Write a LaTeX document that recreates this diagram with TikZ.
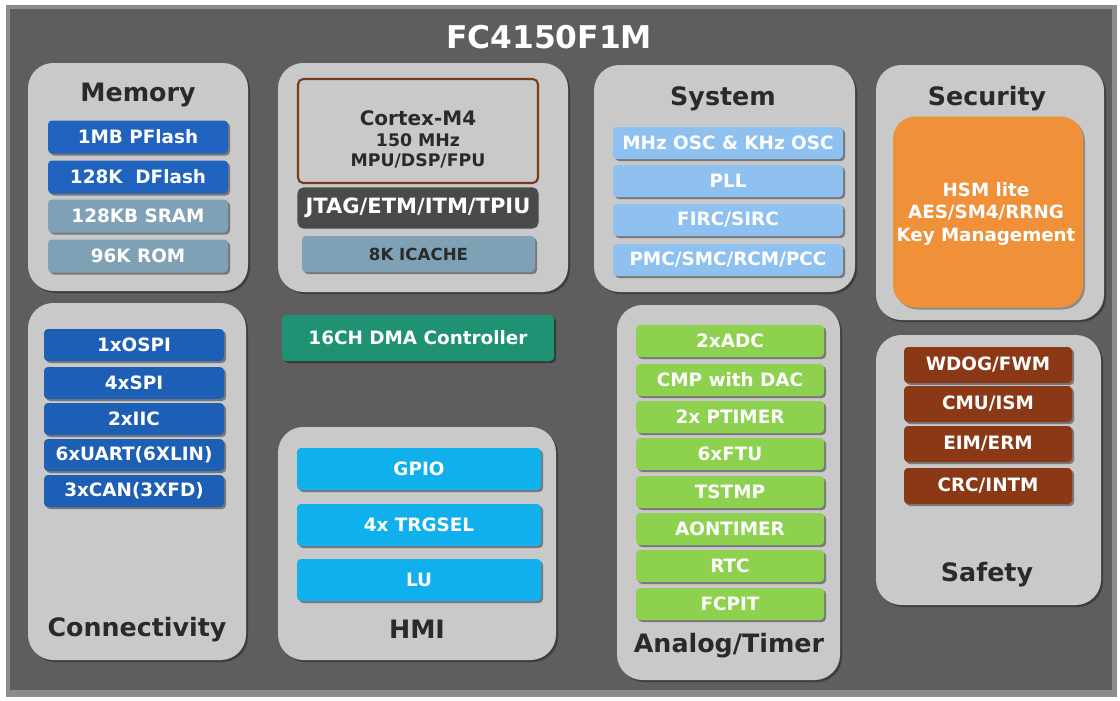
\documentclass[tikz,border=0pt]{standalone}
\usepackage{fontspec}
\setmainfont{DejaVu Sans}
\usetikzlibrary{shadows}
\definecolor{panel}{HTML}{5E5E5E}
\definecolor{panelEdge}{HTML}{8C8C8C}
\definecolor{grp}{HTML}{C9C9C9}
\definecolor{memBlue}{HTML}{1F63BF}
\definecolor{memGray}{HTML}{7FA1B5}
\definecolor{conBlue}{HTML}{1E5FB6}
\definecolor{sysBlue}{HTML}{8EC0F0}
\definecolor{hsmOrange}{HTML}{F0913A}
\definecolor{dmaGreen}{HTML}{1E9272}
\definecolor{hmiCyan}{HTML}{0FB0EC}
\definecolor{anaGreen}{HTML}{8DD14E}
\definecolor{safBrown}{HTML}{8A3816}
\definecolor{cpuBrown}{HTML}{7A3A1C}
\definecolor{jtagGray}{HTML}{4A4A4A}
\definecolor{titleText}{HTML}{2A2A2A}
\tikzset{
  x=0.75pt, y=-0.75pt,
  grpbox/.style={fill=grp, rounded corners=19pt, draw=none,
    drop shadow={shadow xshift=1.5pt, shadow yshift=-1.5pt, opacity=0.35, fill=black}},
  itembox/.style={rounded corners=3pt, draw=none, text=white,
    font=\bfseries\fontsize{13.8}{15}\selectfont,
    drop shadow={shadow xshift=1.5pt, shadow yshift=-1.5pt, opacity=0.4, fill=black}},
  grptitle/.style={text=titleText, font=\bfseries\fontsize{19}{21}\selectfont},
}
\newcommand{\itm}[6]{% name, x1, x2, ycenter, h, color, text
  \node[itembox, fill=#6, minimum width={(#3-#2)*0.75pt}, minimum height={#5*0.75pt}, inner sep=0pt] (#1) at ({(#2+#3)/2},#4)}
\begin{document}
\begin{tikzpicture}
\useasboundingbox (0,0) rectangle (1120,700);
\fill[white] (0,0) rectangle (1120,700);
% outer panel
\fill[panelEdge] (6,5) rectangle (1117,697);
\fill[panel] (10,9) rectangle (1112,690);
\node[text=white, font=\bfseries\fontsize{23.5}{26}\selectfont] (title) at (549,37) {FC4150F1M};

% ---------- Memory
\path[grpbox] (28,63) rectangle (248,291);
\node[grptitle] (memT) at (138,95) {Memory};
\itm{m1}{48}{228}{137}{33}{memBlue} {1MB PFlash};
\itm{m2}{48}{228}{177}{33}{memBlue} {128K\ \ DFlash};
\itm{m3}{48}{228}{216}{33}{memGray} {128KB SRAM};
\itm{m4}{48}{228}{256}{33}{memGray} {96K ROM};

% ---------- CPU
\path[grpbox] (278,63) rectangle (568,292);
\node[draw=cpuBrown, line width=1.6pt, fill=grp, rounded corners=4pt,
  minimum width={240*0.75pt}, minimum height={104*0.75pt}] (cpu) at (418,131) {};
\node[text=titleText, font=\bfseries\fontsize{15}{16}\selectfont] (cpuA) at (418,118) {Cortex-M4};
\node[text=titleText, font=\bfseries\fontsize{13}{14}\selectfont] (cpuB) at (418,140) {150 MHz};
\node[text=titleText, font=\bfseries\fontsize{13}{14}\selectfont] (cpuC) at (418,161) {MPU/DSP/FPU};
\node[fill=jtagGray, draw=black!70, line width=0.8pt, rounded corners=4pt, text=white,
  font=\bfseries\fontsize{15.8}{17}\selectfont,
  minimum width={240*0.75pt}, minimum height={40*0.75pt}, inner sep=0pt] (jtag) at (418,208) {JTAG/ETM/ITM/TPIU};
\itm{icache}{302}{535}{254}{36}{memGray} {\textcolor{titleText}{\fontsize{12.5}{13}\selectfont 8K ICACHE}};

% ---------- System
\path[grpbox] (594,65) rectangle (855,292);
\node[grptitle] (sysT) at (723,99) {System};
\itm{s1}{613}{843}{143}{32}{sysBlue} {MHz OSC \& KHz OSC};
\itm{s2}{613}{843}{181}{32}{sysBlue} {PLL};
\itm{s3}{613}{843}{220}{32}{sysBlue} {FIRC/SIRC};
\itm{s4}{613}{843}{260}{32}{sysBlue} {PMC/SMC/RCM/PCC};

% ---------- Security
\path[grpbox] (876,65) rectangle (1104,320);
\node[grptitle] (secT) at (987,99) {Security};
\node[fill=hsmOrange, rounded corners=17pt, minimum width={190*0.75pt}, minimum height={191*0.75pt},
  drop shadow={shadow xshift=1.5pt, shadow yshift=-1.5pt, opacity=0.3, fill=black},
  inner sep=0pt] (hsm) at (988,212) {};
\node[text=white, font=\bfseries\fontsize{13.7}{16.9}\selectfont, align=center] (hsmT) at (986,214)
  {HSM lite\\AES/SM4/RRNG\\Key Management};

% ---------- Connectivity
\path[grpbox] (28,303) rectangle (246,660);
\itm{c1}{44}{224}{345}{32}{conBlue} {1xOSPI};
\itm{c2}{44}{224}{383}{32}{conBlue} {4xSPI};
\itm{c3}{44}{224}{419}{32}{conBlue} {2xIIC};
\itm{c4}{44}{224}{455}{32}{conBlue} {6xUART(6XLIN)};
\itm{c5}{44}{224}{491}{32}{conBlue} {3xCAN(3XFD)};
\node[grptitle] (conT) at (137,630) {Connectivity};

% ---------- DMA
\itm{dma}{282}{554}{338}{46}{dmaGreen} {16CH DMA Controller};

% ---------- HMI
\path[grpbox] (278,427) rectangle (556,660);
\itm{h1}{297}{541}{469}{42}{hmiCyan} {GPIO};
\itm{h2}{297}{541}{525}{42}{hmiCyan} {4x TRGSEL};
\itm{h3}{297}{541}{580}{42}{hmiCyan} {LU};
\node[grptitle] (hmiT) at (417,629) {HMI};

% ---------- Analog/Timer
\path[grpbox] (617,305) rectangle (840,680);
\itm{a1}{636}{824}{341}{32}{anaGreen} {2xADC};
\itm{a2}{636}{824}{380}{32}{anaGreen} {CMP with DAC};
\itm{a3}{636}{824}{417}{32}{anaGreen} {2x PTIMER};
\itm{a4}{636}{824}{454}{32}{anaGreen} {6xFTU};
\itm{a5}{636}{824}{492}{32}{anaGreen} {TSTMP};
\itm{a6}{636}{824}{529}{32}{anaGreen} {AONTIMER};
\itm{a7}{636}{824}{566}{32}{anaGreen} {RTC};
\itm{a8}{636}{824}{604}{32}{anaGreen} {FCPIT};
\node[grptitle] (anaT) at (729,646) {Analog/Timer};

% ---------- Safety
\path[grpbox] (876,335) rectangle (1101,605);
\itm{f1}{904}{1072}{365}{36}{safBrown} {WDOG/FWM};
\itm{f2}{904}{1072}{404}{36}{safBrown} {CMU/ISM};
\itm{f3}{904}{1072}{444}{36}{safBrown} {EIM/ERM};
\itm{f4}{904}{1072}{486}{36}{safBrown} {CRC/INTM};
\node[grptitle] (safT) at (987,575) {Safety};
\end{tikzpicture}
\end{document}
